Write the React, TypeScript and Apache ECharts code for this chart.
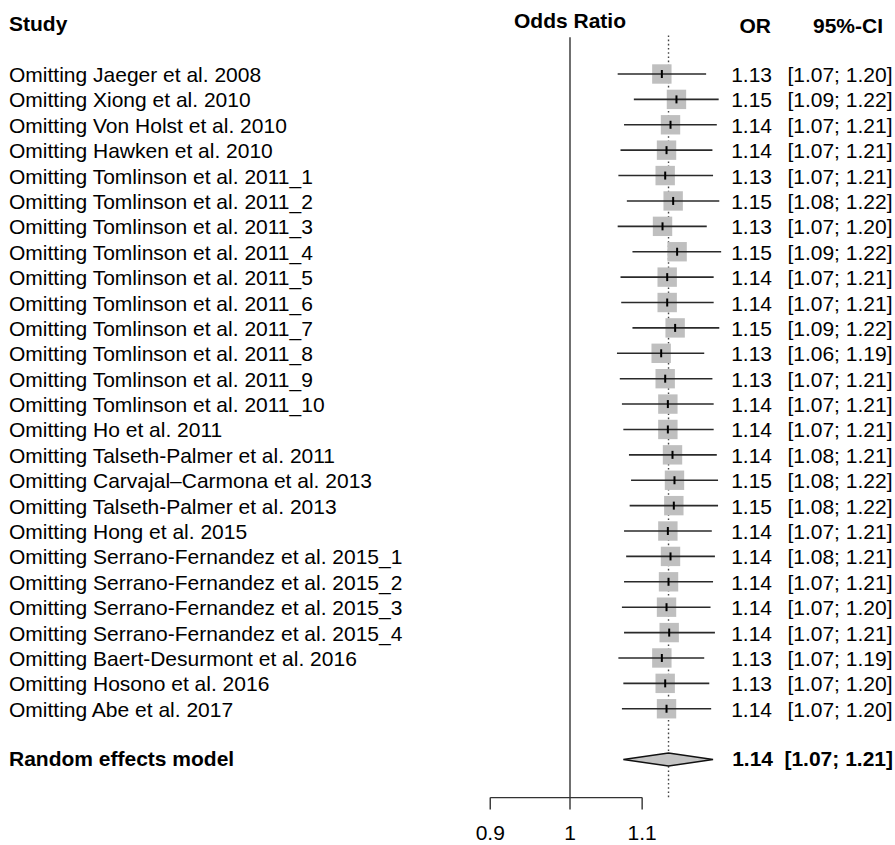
import React, { useEffect, useRef } from "react";
import * as echarts from "echarts";

// ---- Data ----
const studies = [
  "Omitting Jaeger et al. 2008",
  "Omitting Xiong et al. 2010",
  "Omitting Von Holst et al. 2010",
  "Omitting Hawken et al. 2010",
  "Omitting Tomlinson et al. 2011_1",
  "Omitting Tomlinson et al. 2011_2",
  "Omitting Tomlinson et al. 2011_3",
  "Omitting Tomlinson et al. 2011_4",
  "Omitting Tomlinson et al. 2011_5",
  "Omitting Tomlinson et al. 2011_6",
  "Omitting Tomlinson et al. 2011_7",
  "Omitting Tomlinson et al. 2011_8",
  "Omitting Tomlinson et al. 2011_9",
  "Omitting Tomlinson et al. 2011_10",
  "Omitting Ho et al. 2011",
  "Omitting Talseth-Palmer et al. 2011",
  "Omitting Carvajal\u2013Carmona et al. 2013",
  "Omitting Talseth-Palmer et al. 2013",
  "Omitting Hong et al. 2015",
  "Omitting Serrano-Fernandez et al. 2015_1",
  "Omitting Serrano-Fernandez et al. 2015_2",
  "Omitting Serrano-Fernandez et al. 2015_3",
  "Omitting Serrano-Fernandez et al. 2015_4",
  "Omitting Baert-Desurmont et al. 2016",
  "Omitting Hosono et al. 2016",
  "Omitting Abe et al. 2017",
];

const orValues = [
  1.129, 1.151, 1.142, 1.136, 1.134, 1.146, 1.13, 1.152, 1.137, 1.137, 1.149,
  1.128, 1.134, 1.138, 1.138, 1.145, 1.148, 1.147, 1.138, 1.142, 1.139, 1.136,
  1.14, 1.129, 1.134, 1.136,
];
const ciLower = [
  1.065, 1.088, 1.074, 1.069, 1.066, 1.078, 1.065, 1.086, 1.069, 1.07, 1.086,
  1.064, 1.068, 1.071, 1.073, 1.081, 1.084, 1.082, 1.074, 1.077, 1.074, 1.071,
  1.074, 1.066, 1.073, 1.071,
];
const ciUpper = [
  1.197, 1.217, 1.214, 1.207, 1.208, 1.218, 1.198, 1.221, 1.209, 1.209, 1.218,
  1.194, 1.207, 1.209, 1.209, 1.214, 1.216, 1.216, 1.206, 1.211, 1.208, 1.204,
  1.211, 1.194, 1.202, 1.205,
];
const orLabels = [
  "1.13", "1.15", "1.14", "1.14", "1.13", "1.15", "1.13", "1.15", "1.14", "1.14",
  "1.15", "1.13", "1.13", "1.14", "1.14", "1.14", "1.15", "1.15", "1.14", "1.14",
  "1.14", "1.14", "1.14", "1.13", "1.13", "1.14",
];
const ciLabels = [
  "[1.07; 1.20]", "[1.09; 1.22]", "[1.07; 1.21]", "[1.07; 1.21]", "[1.07; 1.21]",
  "[1.08; 1.22]", "[1.07; 1.20]", "[1.09; 1.22]", "[1.07; 1.21]", "[1.07; 1.21]",
  "[1.09; 1.22]", "[1.06; 1.19]", "[1.07; 1.21]", "[1.07; 1.21]", "[1.07; 1.21]",
  "[1.08; 1.21]", "[1.08; 1.22]", "[1.08; 1.22]", "[1.07; 1.21]", "[1.08; 1.21]",
  "[1.07; 1.21]", "[1.07; 1.20]", "[1.07; 1.21]", "[1.07; 1.19]", "[1.07; 1.20]",
  "[1.07; 1.20]",
];

const pooledLabel = "Random effects model";
const pooledOR = 1.139;
const pooledLower = 1.073;
const pooledUpper = 1.208;
const pooledORLabel = "1.14";
const pooledCILabel = "[1.07; 1.21]";

const nullValue = 1;
const axisTicks = [0.9, 1, 1.1];
const axisTickLabels = ["0.9", "1", "1.1"];

const headerStudy = "Study";
const headerPlot = "Odds Ratio";
const headerOR = "OR";
const headerCI = "95%-CI";

// ---- Layout / style ----
const FONT = '"Liberation Sans", Arial, Helvetica, sans-serif';
const FS = 21;
const W = 895;
const H = 845;
const X_NULL = 570; // pixel of OR = 1
const K = 757; // pixels per ln unit
const ROW0 = 74;
const ROW_H = 25.39;
const POOLED_ROW = studies.length + 1;
const LINE_TOP_ROW = -1.45;
const AXIS_ROW = 28.5;
const TEXT_LEFT = 9;
const OR_RIGHT = 772;
const CI_RIGHT = 892.5;

export default function App() {
  const ref = useRef<HTMLDivElement>(null);

  useEffect(() => {
    if (!ref.current) return;
    const chart = echarts.init(ref.current, undefined, { renderer: "svg" });

    const txt = (
      text: string,
      x: number,
      y: number,
      align: string,
      bold = false
    ) => ({
      type: "text",
      x,
      y,
      style: {
        text,
        fill: "#000",
        fontSize: FS,
        fontFamily: FONT,
        fontWeight: bold ? "bold" : "normal",
        textAlign: align,
        textVerticalAlign: "middle",
      },
    });

    const studyData = studies.map((_, i) => [
      i,
      Math.log(orValues[i]),
      Math.log(ciLower[i]),
      Math.log(ciUpper[i]),
    ]);

    const option: any = {
      animation: false,
      grid: {
        left: 0,
        top: ROW0,
        width: W,
        height: ROW_H * POOLED_ROW,
        containLabel: false,
      },
      xAxis: {
        type: "value",
        min: -X_NULL / K,
        max: (W - X_NULL) / K,
        show: false,
      },
      yAxis: {
        type: "value",
        inverse: true,
        min: 0,
        max: POOLED_ROW,
        show: false,
      },
      graphic: [
        txt(headerStudy, TEXT_LEFT, 23, "left", true),
        txt(headerPlot, X_NULL, 20, "center", true),
        txt(headerOR, OR_RIGHT - 1, 25, "right", true),
        txt(headerCI, 883, 25, "right", true),
      ],
      series: [
        // reference lines (null effect solid, pooled dotted)
        {
          type: "custom",
          silent: true,
          encode: { x: 0, y: 1 },
          data: [
            [Math.log(nullValue), 0],
            [Math.log(pooledOR), 1],
          ],
          renderItem: (params: any, api: any) => {
            const x = api.value(0);
            const dotted = api.value(1) === 1;
            const top = api.coord([x, LINE_TOP_ROW - (dotted ? 0.07 : 0)]);
            const bot = api.coord([x, AXIS_ROW]);
            return {
              type: "line",
              shape: { x1: top[0], y1: top[1], x2: bot[0], y2: bot[1] },
              style: dotted
                ? { stroke: "#444", lineWidth: 1.4, lineDash: [1.6, 2.6] }
                : { stroke: "#333", lineWidth: 1.4 },
            };
          },
        },
        // axis bracket line
        {
          type: "custom",
          silent: true,
          encode: { x: [0, 1], y: 2 },
          data: [
            [
              Math.log(axisTicks[0]),
              Math.log(axisTicks[axisTicks.length - 1]),
              AXIS_ROW,
            ],
          ],
          renderItem: (params: any, api: any) => {
            const a = api.coord([api.value(0), api.value(2)]);
            const b = api.coord([api.value(1), api.value(2)]);
            return {
              type: "line",
              shape: { x1: a[0], y1: a[1], x2: b[0], y2: b[1] },
              style: { stroke: "#333", lineWidth: 1.4 },
            };
          },
        },
        // axis ticks and labels
        {
          type: "custom",
          silent: true,
          encode: { x: 0, y: 1 },
          data: axisTicks.map((t) => [Math.log(t), AXIS_ROW]),
          renderItem: (params: any, api: any) => {
            const p = api.coord([api.value(0), api.value(1)]);
            return {
              type: "group",
              children: [
                {
                  type: "line",
                  shape: { x1: p[0], y1: p[1], x2: p[0], y2: p[1] + 12 },
                  style: { stroke: "#333", lineWidth: 1.4 },
                },
                txt(axisTickLabels[params.dataIndex], p[0], p[1] + 35, "center"),
              ],
            };
          },
        },
        // studies
        {
          type: "custom",
          silent: true,
          encode: { x: [1, 2, 3], y: 0 },
          data: studyData,
          renderItem: (params: any, api: any) => {
            const i = params.dataIndex;
            const row = api.value(0);
            const c = api.coord([api.value(1), row]);
            const l = api.coord([api.value(2), row]);
            const h = api.coord([api.value(3), row]);
            const s = 19.4;
            return {
              type: "group",
              children: [
                {
                  type: "rect",
                  shape: { x: c[0] - s / 2, y: c[1] - s / 2, width: s, height: s },
                  style: { fill: "#bfbfbf" },
                },
                {
                  type: "line",
                  shape: { x1: l[0], y1: c[1], x2: h[0], y2: c[1] },
                  style: { stroke: "#2a2a2a", lineWidth: 1.6 },
                },
                {
                  type: "line",
                  shape: { x1: c[0], y1: c[1] - 4, x2: c[0], y2: c[1] + 4 },
                  style: { stroke: "#000", lineWidth: 2 },
                },
                txt(studies[i], TEXT_LEFT, c[1] + 0.5, "left"),
                txt(orLabels[i], OR_RIGHT, c[1] + 0.5, "right"),
                txt(ciLabels[i], CI_RIGHT, c[1] + 0.5, "right"),
              ],
            };
          },
        },
        // pooled diamond
        {
          type: "custom",
          silent: true,
          encode: { x: [1, 2, 3], y: 0 },
          data: [
            [
              POOLED_ROW,
              Math.log(pooledOR),
              Math.log(pooledLower),
              Math.log(pooledUpper),
            ],
          ],
          renderItem: (params: any, api: any) => {
            const row = api.value(0);
            const c = api.coord([api.value(1), row]);
            const l = api.coord([api.value(2), row]);
            const h = api.coord([api.value(3), row]);
            const hh = 6.5;
            return {
              type: "group",
              children: [
                {
                  type: "polygon",
                  shape: {
                    points: [
                      [l[0], c[1]],
                      [c[0], c[1] - hh],
                      [h[0], c[1]],
                      [c[0], c[1] + hh],
                    ],
                  },
                  style: { fill: "#c4c4c4", stroke: "#111", lineWidth: 1.5 },
                },
                txt(pooledLabel, TEXT_LEFT, c[1] - 1, "left", true),
                txt(pooledORLabel, OR_RIGHT + 1, c[1] - 1, "right", true),
                txt(pooledCILabel, CI_RIGHT + 0.5, c[1] - 1, "right", true),
              ],
            };
          },
        },
      ],
    };

    chart.setOption(option);
    return () => chart.dispose();
  }, []);

  return (
    <div
      ref={ref}
      style={{ position: "absolute", left: 0, top: 0, width: W, height: H, background: "#fff" }}
    />
  );
}
